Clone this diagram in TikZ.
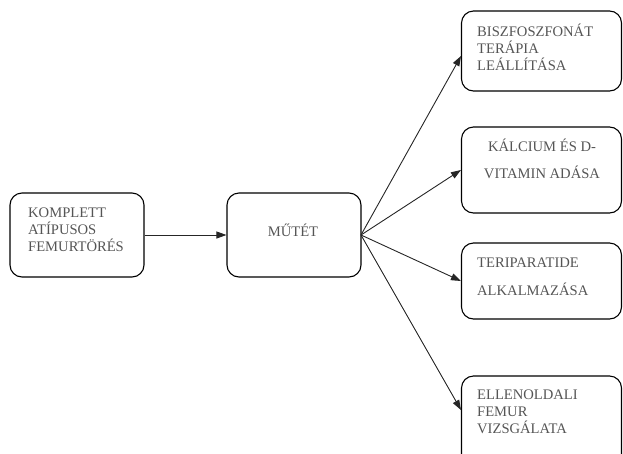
\documentclass[tikz,border=0pt]{standalone}
\usepackage{fontspec}
\setmainfont{Liberation Serif}
\usetikzlibrary{arrows.meta}
\definecolor{txt}{HTML}{555555}
\begin{document}
\begin{tikzpicture}[x=1pt,y=-1pt,
  box/.style={draw=black,line width=1.1pt,rounded corners=12pt,inner sep=0pt},
  lbl/.style={text=txt,font=\fontsize{14.6}{17}\selectfont,inner sep=0pt},
  wide/.style={font=\fontsize{14.6}{27.5}\selectfont},
  conn/.style={draw=black!85,line width=0.9pt,-{Triangle[length=10pt,width=7pt]}}]
\useasboundingbox (0,0) rectangle (623,453);
\clip (0,0) rectangle (623,453);
% boxes
\node[box,minimum width=134pt,minimum height=84pt] (b1) at (77,235) {};
\node[box,minimum width=134pt,minimum height=84pt] (b2) at (294,235) {};
\node[box,minimum width=160pt,minimum height=80pt] (b3) at (541.5,51) {};
\node[box,minimum width=160pt,minimum height=86pt] (b4) at (541.5,170) {};
\node[box,minimum width=160pt,minimum height=76pt] (b5) at (541.5,281) {};
\node[box,minimum width=160pt,minimum height=100pt] (b6) at (541.5,426) {};
% texts
\node[lbl,anchor=west,align=left] (t1) at (28,230) {KOMPLETT\\ATÍPUSOS\\FEMURTÖRÉS};
\node[lbl] (t2) at (293,230) {MŰTÉT};
\node[lbl,anchor=west,align=left] (t3) at (477,47) {BISZFOSZFONÁT\\TERÁPIA\\LEÁLLÍTÁSA};
\node[lbl,wide,align=center] (t4) at (542,159) {KÁLCIUM ÉS D-\\VITAMIN ADÁSA};
\node[lbl,wide,anchor=west,align=left] (t5) at (477,276.5) {TERIPARATIDE\\ALKALMAZÁSA};
\node[lbl,anchor=west,align=left] (t6) at (477,412) {ELLENOLDALI\\FEMUR\\VIZSGÁLATA};
% connector ends
\coordinate (s) at (361,235);
\coordinate (e3) at (461,56);
\coordinate (e6) at (461,410);
\draw[conn] (b1.east) -- (b2.west);
\draw[conn] (s) -- (e3);
\draw[conn] (s) -- (b4.west);
\draw[conn] (s) -- (b5.west);
\draw[conn] (s) -- (e6);
\end{tikzpicture}
\end{document}
